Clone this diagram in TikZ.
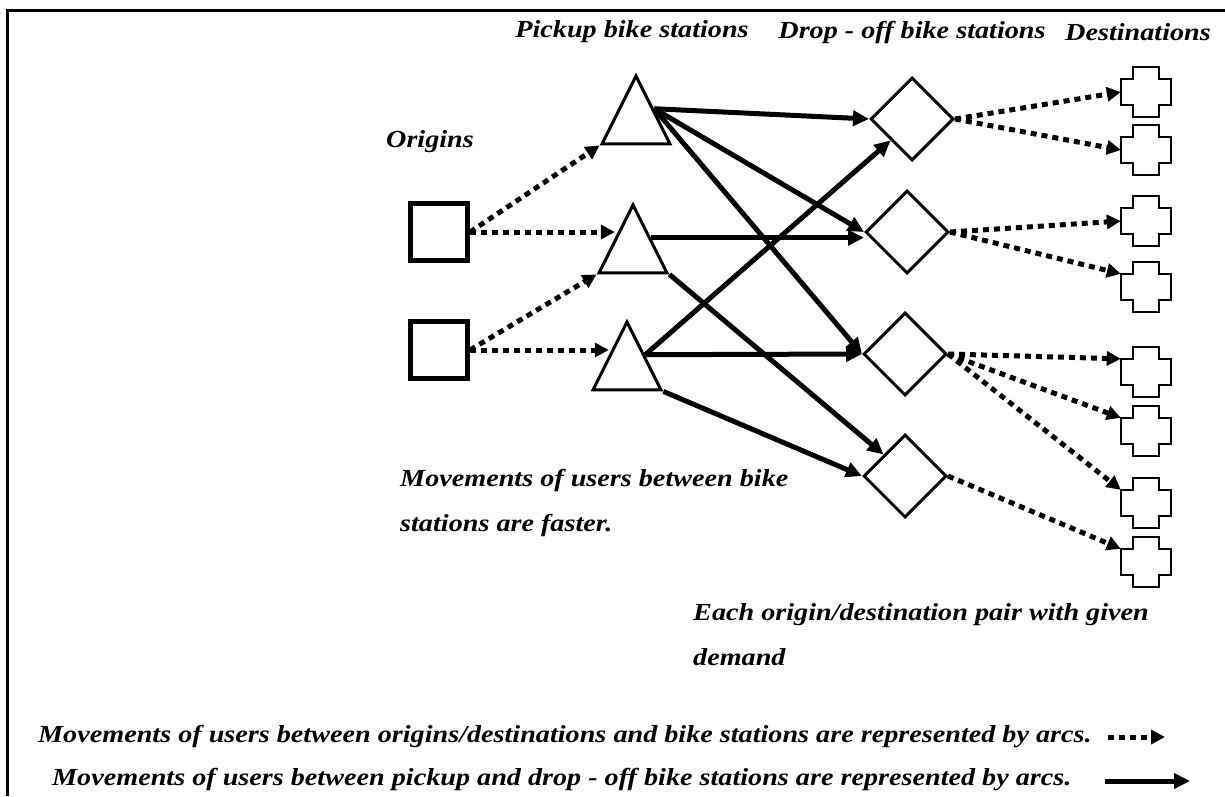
\documentclass[tikz,border=0pt]{standalone}
\usepackage{fontspec}
\setmainfont[FakeStretch=1.15]{Liberation Serif}
\usetikzlibrary{shapes.geometric, arrows.meta}

\tikzset{
  lbl/.style={font=\bfseries\itshape\fontsize{24.5}{45}\selectfont, inner sep=0pt},
  origin/.style={draw, line width=5pt, minimum size=57pt, inner sep=0pt},
  pickup/.style={draw, line width=3pt, isosceles triangle, isosceles triangle stretches,
    shape border rotate=90, minimum width=68pt, minimum height=68pt, inner sep=0pt, anchor=apex},
  dropoff/.style={draw, line width=3pt, diamond, minimum width=83pt, minimum height=83pt, inner sep=0pt},
  dest/.style={minimum width=50pt, minimum height=26pt, inner sep=0pt},
  walk/.style={line width=5pt, dash pattern=on 6pt off 5pt, -{Triangle[length=14pt,width=14pt]}},
  ride/.style={line width=5pt, -{Triangle[length=16pt,width=15pt]}}
}

\begin{document}
\begin{tikzpicture}[x=1pt, y=-1pt]
    \useasboundingbox (0,0) rectangle (1225,796);
    \draw[line width=3pt] (1225,10) -- (7,10) -- (7,796);

    % stations
    \node[origin] (orig1) at (439,232) {};
    \node[origin] (orig2) at (439,350) {};

    \node[pickup] (pick1) at (636,72) {};
    \node[pickup] (pick2) at (633,201) {};
    \node[pickup] (pick3) at (627,318) {};

    \node[dropoff] (drop1) at (912,119) {};
    \node[dropoff] (drop2) at (907,232) {};
    \node[dropoff] (drop3) at (905,354) {};
    \node[dropoff] (drop4) at (905,476) {};

    \foreach \i/\y in {1/92, 2/150, 3/221, 4/287, 5/372, 6/431, 7/503, 8/562}
        \node[dest] (dest\i) at (1146,\y) {};
    \foreach \i in {1,...,8}
        \draw[line width=2pt] (dest\i.north west) -- ++(12,0) -- ++(0,-12) -- ++(26,0)
            -- ++(0,12) -- ++(12,0) -- ++(0,26) -- ++(-12,0) -- ++(0,12)
            -- ++(-26,0) -- ++(0,-12) -- ++(-12,0) -- cycle;

    % labels
    \node[lbl] (hpick) at (632,32) {Pickup bike stations};
    \node[lbl] (hdrop) at (912,32) {Drop - off bike stations};
    \node[lbl] (hdest) at (1138,32) {Destinations};
    \node[lbl] (horig) at (430,142) {Origins};
    \node[lbl, anchor=west, align=left] (nfast) at (400,503) {Movements of users between bike\\stations are faster.};
    \node[lbl, anchor=west, align=left] (npair) at (693,635) {Each origin/destination pair with given\\demand};
    \node[lbl, anchor=west] (legwalk) at (38,737) {Movements of users between origins/destinations and bike stations are represented by arcs.};
    \node[lbl, anchor=west] (legride) at (52,780) {Movements of users between pickup and drop - off bike stations are represented by arcs.};

    % walking arcs
    \draw[walk] (orig1.east) -- (pick1.left corner);
    \draw[walk] (orig1.east) -- (orig1.east -| pick2.left side);
    \draw[walk] (orig2.east) -- (pick2.left corner);
    \draw[walk] (orig2.east) -- (orig2.east -| pick3.left side);
    \draw[walk] (drop1.east) -- (dest1.west);
    \draw[walk] (drop1.east) -- (dest2.west);
    \draw[walk] (drop2.east) -- (dest3.west);
    \draw[walk] (drop2.east) -- (dest4.north west);
    \draw[walk] (drop3.east) -- (dest5.north west);
    \draw[walk] (drop3.east) -- (dest6.north west);
    \draw[walk] (drop3.east) -- (dest7.north west);
    \draw[walk] (drop4.east) -- (dest8.north west);

    % riding arcs
    \draw[ride] (pick1.right side) -- (drop1.west);
    \draw[ride] (pick1.right side) -- (drop2.west);
    \draw[ride] (pick1.right side) -- (drop3.west);
    \draw[ride] (pick2.right side) -- (pick2.right side -| drop2.west);
    \draw[ride] (pick2.right corner) -- (drop4.north west);
    \draw[ride] (pick3.right side) -- (drop1.south west);
    \draw[ride] (pick3.right side) -- (drop3.west);
    \draw[ride] (pick3.right corner) -- (drop4.west);

    % legend
    \coordinate (walka) at (1108,737);
    \coordinate (walkb) at (1165,737);
    \coordinate (ridea) at (1105,781);
    \coordinate (rideb) at (1190,781);
    \draw[walk] (walka) -- (walkb);
    \draw[ride] (ridea) -- (rideb);
\end{tikzpicture}
\end{document}
